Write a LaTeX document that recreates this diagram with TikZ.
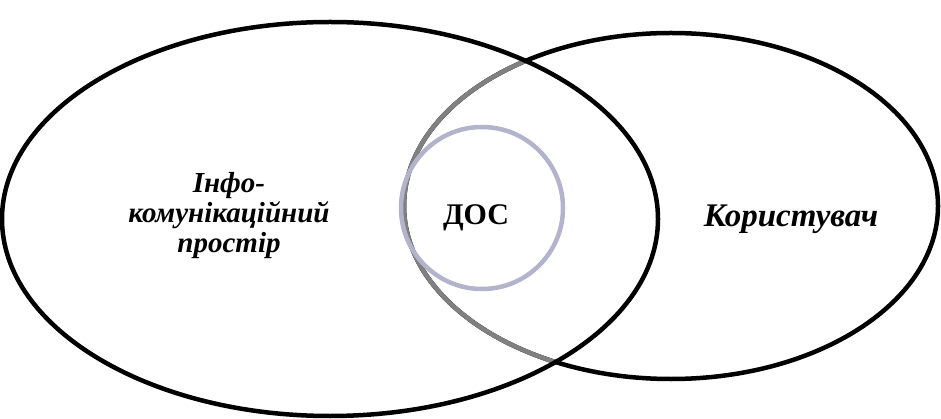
\documentclass[tikz,border=0pt]{standalone}
\usepackage{fontspec}
\setmainfont{Liberation Serif}
\begin{document}
\begin{tikzpicture}[x=1pt,y=-1pt,
  outline/.style={line width=4.5pt,draw=black},
  dosring/.style={line width=4.5pt,draw=dosc},
  lbl/.style={font=\bfseries\itshape,align=center,inner sep=0pt}]
\definecolor{dosc}{HTML}{B3B3CC}
\definecolor{grayarc}{HTML}{808080}
\useasboundingbox (0,0) rectangle (941,419);
% right ellipse (black)
\draw[outline] (671,206) ellipse [x radius=267pt, y radius=173pt];
% part of right ellipse inside left ellipse in gray
\begin{scope}
  \clip (330,219) ellipse [x radius=328pt, y radius=197pt];
  \draw[line width=4.5pt,draw=grayarc] (671,206) ellipse [x radius=267pt, y radius=173pt];
\end{scope}
% left ellipse (black)
\draw[outline] (330,219) ellipse [x radius=328pt, y radius=197pt];
% inner circle
\draw[dosring] (482,208) circle [radius=81pt];
% labels
\node[lbl,font=\fontsize{29}{30}\selectfont\bfseries\itshape] (info) at (229,216) {Інфо-\\комунікаційний\\простір};
\node[lbl,font=\fontsize{30}{30}\selectfont\bfseries,anchor=base] (dos) at (476,225) {ДОС};
\node[lbl,font=\fontsize{33}{33}\selectfont\bfseries\itshape,anchor=base] (user) at (791,227) {Користувач};
\end{tikzpicture}
\end{document}
